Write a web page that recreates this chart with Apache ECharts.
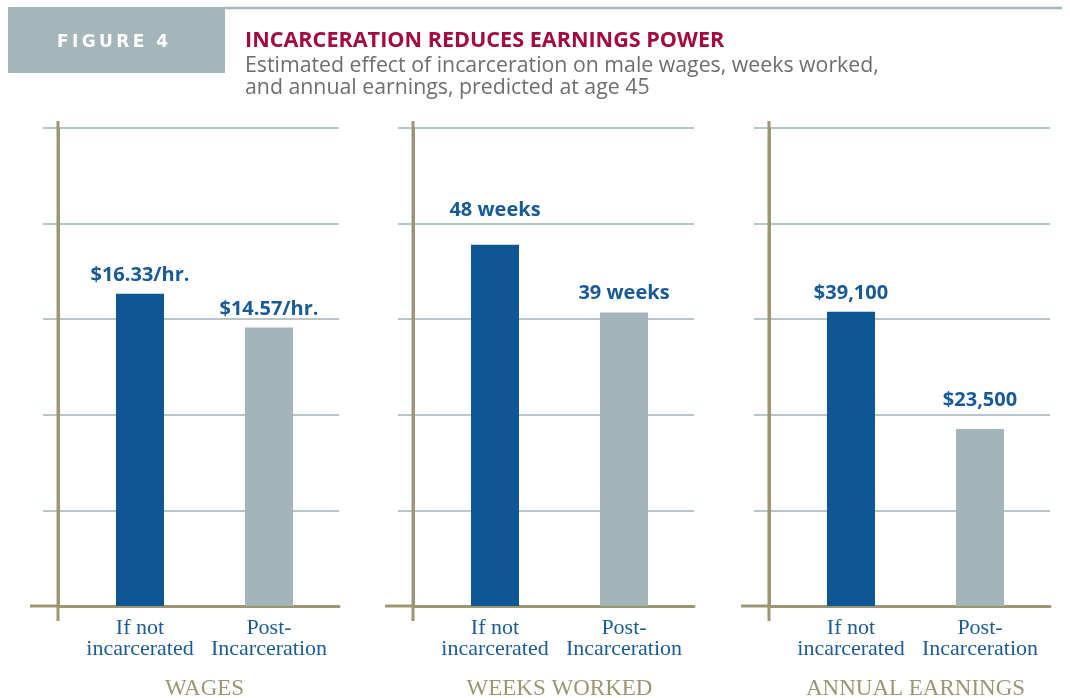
<!DOCTYPE html>
<html>
<head>
<meta charset="utf-8">
<script src="https://cdn.jsdelivr.net/npm/echarts@6/dist/echarts.min.js"></script>
<style>
  html, body { margin: 0; padding: 0; background: #fff; }
  #chart { width: 1070px; height: 698px; }
</style>
</head>
<body>
<div id="chart"></div>
<script>
// data
const categories = ["If not\nincarcerated", "Post-\nIncarceration"];
const panelNames = ["WAGES", "WEEKS WORKED", "ANNUAL EARNINGS"];
const wages = [16.33, 14.57];
const weeks = [48, 39];
const earnings = [39100, 23500];
const axisMax = [25, 63.5, 63500];

const BLUE = "#0e5794";
const GREY = "#a4b5b9";
const OLIVE = "#9c9672";
const GRID_LINE = "#b6c6c9";

// layout of each panel
const panels = [
  { values: wages, fmt: v => "$" + v.toFixed(2) + "/hr.", axisX: 58, right: 339, barLeft: 75.5, dist: [8, 8] },
  { values: weeks, fmt: v => v + " weeks", axisX: 413, right: 694, barLeft: 430.5, dist: [24, 9] },
  { values: earnings, fmt: v => "$" + v.toLocaleString("en-US"), axisX: 769, right: 1050, barLeft: 786.5, dist: [8, 19] },
];
const TOP = 128, HEIGHT = 478, BASE = TOP + HEIGHT;

const grids = [], xAxes = [], yAxes = [], series = [], graphics = [];

panels.forEach((p, i) => {
  const max = axisMax[i];
  // frame grid: axis lines + grid lines
  grids.push({ left: p.axisX, top: TOP, width: p.right - p.axisX, height: HEIGHT, outerBoundsMode: "none", containLabel: false });
  // bar grid
  grids.push({ left: p.barLeft, top: TOP, width: 258, height: HEIGHT, outerBoundsMode: "none", containLabel: false });

  xAxes.push({
    gridIndex: 2 * i, type: "category", data: categories,
    axisLine: { show: true, lineStyle: { color: OLIVE, width: 3 } },
    axisTick: { show: false }, axisLabel: { show: false }, splitLine: { show: false }
  });
  xAxes.push({
    gridIndex: 2 * i + 1, type: "category", data: categories,
    axisLine: { show: false }, axisTick: { show: false },
    axisLabel: {
      interval: 0, hideOverlap: false,
      color: "#1b5b96", fontFamily: "Liberation Serif", fontSize: 22,
      lineHeight: 21, margin: 12
    },
    name: panelNames[i], nameLocation: "middle", nameGap: 71,
    nameTextStyle: { color: OLIVE, fontFamily: "Liberation Serif", fontSize: 23 }
  });

  yAxes.push({
    gridIndex: 2 * i, type: "value", min: 0, max: max, interval: max / 5,
    axisLine: { show: true, lineStyle: { color: OLIVE, width: 3 } },
    axisTick: { show: true, length: 15, lineStyle: { color: GRID_LINE, width: 2 } },
    axisLabel: { show: false },
    splitLine: { show: true, lineStyle: { color: GRID_LINE, width: 2 } }
  });
  yAxes.push({
    gridIndex: 2 * i + 1, type: "value", min: 0, max: max, interval: max / 5,
    show: false, splitLine: { show: false }
  });

  series.push({
    type: "bar", xAxisIndex: 2 * i + 1, yAxisIndex: 2 * i + 1,
    barWidth: 48, z: 1,
    data: p.values.map((v, j) => ({
      value: v,
      itemStyle: { color: j === 0 ? BLUE : GREY },
      label: { distance: p.dist[j] }
    })),
    label: {
      show: true, position: "top",
      formatter: d => p.fmt(d.value),
      color: "#175a97", fontFamily: "Open Sans", fontWeight: "bold", fontSize: 20, lineHeight: 20
    }
  });

  // axis line extensions (cross at the bottom-left, overhang at the top)
  graphics.push({
    type: "line", z: 10,
    shape: { x1: p.axisX, y1: TOP - 7, x2: p.axisX, y2: BASE + 15 },
    style: { stroke: OLIVE, lineWidth: 3 }
  });
  graphics.push({
    type: "line", z: 10,
    shape: { x1: p.axisX - 28, y1: BASE, x2: p.axisX, y2: BASE },
    style: { stroke: OLIVE, lineWidth: 3 }
  });
});

// header
graphics.push(
  { type: "rect", shape: { x: 8, y: 7, width: 217, height: 66 }, style: { fill: "#a4b6ba" } },
  { type: "line", shape: { x1: 225, y1: 8, x2: 1062, y2: 8 }, style: { stroke: "#a4b6ba", lineWidth: 2.5 } }
);

const chart = echarts.init(document.getElementById("chart"));
chart.setOption({
  animation: false,
  title: [
    {
      text: "F\u2009I\u2009G\u2009U\u2009R\u2009E\u2002\u20094", left: 52, top: 29,
      textStyle: { color: "#fff", fontFamily: "DejaVu Sans", fontWeight: "bold", fontSize: 17 }
    },
    {
      text: "INCARCERATION REDUCES EARNINGS POWER", left: 240, top: 25,
      textStyle: { color: "#a20b3c", fontFamily: "Open Sans", fontWeight: "bold", fontSize: 21.6 }
    },
    {
      text: "Estimated effect of incarceration on male wages, weeks worked,\nand annual earnings, predicted at age 45",
      left: 240, top: 50,
      textStyle: { color: "#6d6e71", fontFamily: "Open Sans", fontWeight: "normal", fontSize: 21.3, lineHeight: 22 }
    }
  ],
  grid: grids,
  xAxis: xAxes,
  yAxis: yAxes,
  series: series,
  graphic: graphics
});
</script>
</body>
</html>
